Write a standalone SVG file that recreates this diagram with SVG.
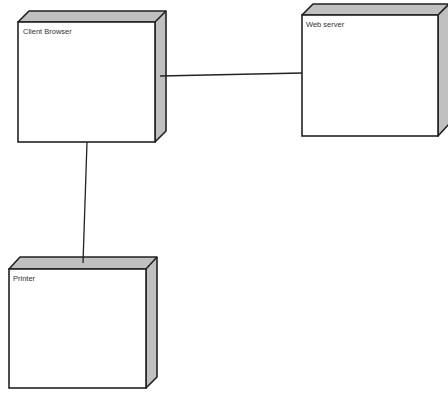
<svg xmlns="http://www.w3.org/2000/svg" width="448" height="394" viewBox="0 0 448 394">
<style>
.front{fill:#fff;stroke:#222;stroke-width:1.6}
.side{fill:#c0c0c0;stroke:#222;stroke-width:1.6;stroke-linejoin:round}
.edge{stroke:#222;stroke-width:1.6}
.lbl{font-family:"Liberation Sans",Arial,sans-serif;font-size:7.5px;fill:#333}
.conn{stroke:#222;stroke-width:1.3;fill:none}
</style>
<rect width="448" height="394" fill="#fff"/>
<g id="client-browser">
<polygon class="side" points="18,22 29,11 166,11 166,131 155,142 155,22"/>
<line class="edge" x1="155" y1="22" x2="166" y2="11"/>
<rect class="front" x="18" y="22" width="137" height="120"/>
<text class="lbl" x="23" y="34">Client Browser</text>
</g>
<g id="web-server">
<polygon class="side" points="302,15 313,4 449,4 449,124 438,136 438,15"/>
<line class="edge" x1="438" y1="15" x2="449" y2="4"/>
<rect class="front" x="302" y="15" width="136" height="121"/>
<text class="lbl" x="306" y="27">Web server</text>
</g>
<g id="printer">
<polygon class="side" points="9,269 20,257 157,257 157,377 146,388 146,269"/>
<line class="edge" x1="146" y1="269" x2="157" y2="257"/>
<rect class="front" x="9" y="269" width="137" height="119"/>
<text class="lbl" x="13" y="281">Printer</text>
</g>
<g id="connectors">
<line class="conn" x1="160" y1="76" x2="302" y2="73"/>
<line class="conn" x1="87" y1="142" x2="83" y2="263"/>
</g>
</svg>
